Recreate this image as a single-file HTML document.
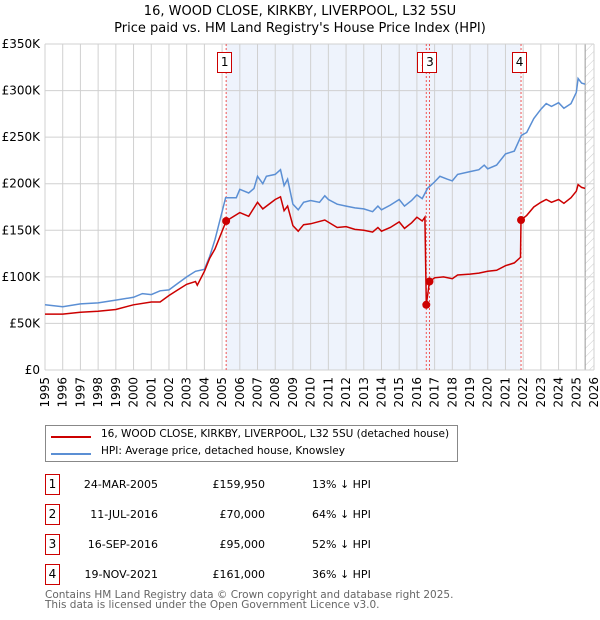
<!DOCTYPE html>
<html><head><meta charset="utf-8"><style>
body{margin:0;background:#fff;font-family:"DejaVu Sans","Liberation Sans",sans-serif;}
#wrap{position:relative;width:600px;height:620px;overflow:hidden;}
.t{position:absolute;white-space:nowrap;color:#000;}
.box{position:absolute;border:1px solid #c00;width:13px;height:19px;font-size:12px;text-align:center;line-height:19px;background:#fff;}
</style></head><body><div id="wrap">
<div class="t" style="left:0;width:600px;text-align:center;top:3px;font-size:13px;line-height:17px">16, WOOD CLOSE, KIRKBY, LIVERPOOL, L32 5SU<br>Price paid vs. HM Land Registry's House Price Index (HPI)</div>
<svg id="svg" width="600" height="420" style="position:absolute;left:0;top:0"></svg>
<div style="position:absolute;left:45px;top:425px;width:411px;height:35px;border:1px solid #888;">
<div style="position:absolute;left:5px;top:10px;width:40px;height:2px;background:#c00"></div>
<div class="t" style="left:55px;top:2px;font-size:10.5px">16, WOOD CLOSE, KIRKBY, LIVERPOOL, L32 5SU (detached house)</div>
<div style="position:absolute;left:5px;top:27px;width:40px;height:2px;background:#5b8fd4"></div>
<div class="t" style="left:55px;top:19px;font-size:10.5px">HPI: Average price, detached house, Knowsley</div>
</div>
<div id="table"></div>
<div class="t" style="left:45px;top:590px;font-size:10.5px;line-height:10px;color:#666">Contains HM Land Registry data © Crown copyright and database right 2025.<br>This data is licensed under the Open Government Licence v3.0.</div>
</div>
<script>
const hpiYears=[1995,1996,1997,1998,1999,2000,2000.5,2001,2001.5,2002,2002.5,2003,2003.5,2004,2004.3,2004.6,2005,2005.2,2005.8,2006,2006.5,2006.8,2007,2007.3,2007.5,2008,2008.3,2008.5,2008.7,2009,2009.3,2009.6,2010,2010.5,2010.8,2011,2011.5,2012,2012.5,2013,2013.5,2013.8,2014,2014.5,2015,2015.3,2015.7,2016,2016.3,2016.6,2017,2017.3,2017.7,2018,2018.3,2019,2019.5,2019.8,2020,2020.5,2021,2021.5,2021.9,2022.2,2022.6,2023,2023.3,2023.6,2024,2024.3,2024.7,2025,2025.1,2025.3,2025.5];
const hpiValues=[70,68,71,72,75,78,82,81,85,86,93,100,106,108,122,140,170,185,185,194,190,195,208,200,208,210,215,198,205,178,172,180,182,180,187,183,178,176,174,173,170,176,172,177,183,176,182,188,184,195,202,208,205,203,210,213,215,220,216,220,232,235,252,255,270,280,286,283,287,281,286,298,313,308,307];
const propYears=[1995,1996,1997,1998,1999,2000,2001,2001.5,2002,2002.5,2003,2003.5,2003.6,2004,2004.3,2004.6,2005.23,2006,2006.5,2007,2007.3,2008,2008.3,2008.5,2008.7,2009,2009.3,2009.6,2010,2010.8,2011.5,2012,2012.5,2013,2013.5,2013.8,2014,2014.5,2015,2015.3,2015.7,2016,2016.3,2016.45,2016.53,2016.71,2017,2017.5,2018,2018.3,2019,2019.5,2020,2020.5,2021,2021.5,2021.85,2021.88,2022.2,2022.6,2023,2023.3,2023.6,2024,2024.3,2024.7,2025,2025.1,2025.3,2025.5];
const propValues=[60,60,62,63,65,70,73,73,80,86,92,95,91,106,120,130,159.95,169,165,180,173,183,186,171,176,155,149,156,157,161,153,154,151,150,148,153,149,153,159,152,158,164,160,164,70,95,99,100,98,102,103,104,106,107,112,115,121,161,166,175,180,183,180,183,179,185,192,199,196,195];
const saleLabels=["1","2","3","4"];
const saleYears=[2005.23,2016.53,2016.71,2021.88];
const salePrices=[159950,70000,95000,161000];
const saleDates=["24-MAR-2005","11-JUL-2016","16-SEP-2016","19-NOV-2021"];
const salePriceText=["£159,950","£70,000","£95,000","£161,000"];
const saleHpiText=["13% ↓ HPI","64% ↓ HPI","52% ↓ HPI","36% ↓ HPI"];
const yTicks=[0,50,100,150,200,250,300,350];
const yTickLabels=["£0","£50K","£100K","£150K","£200K","£250K","£300K","£350K"];
const xTicks=[];for(let y=1995;y<=2026;y++)xTicks.push(y);

const X0=45,X1=594,Y0=370,Y1=44;
const xs=y=>X0+(y-1995)*(X1-X0)/31;
const ys=v=>Y0-v*(Y0-Y1)/350;
const svg=document.getElementById('svg');const NS='http://www.w3.org/2000/svg';
function mk(t,a){const e=document.createElementNS(NS,t);for(const k in a)e.setAttribute(k,a[k]);svg.appendChild(e);return e;}
let defs=mk('defs',{});defs.innerHTML='<pattern id="hatch" width="6" height="6" patternUnits="userSpaceOnUse" patternTransform="rotate(45)"><line x1="0" y1="0" x2="0" y2="6" stroke="#ccc" stroke-width="1"/></pattern>';
let sh=mk('rect',{x:xs(saleYears[0]),y:Y1,width:xs(saleYears[3])-xs(saleYears[0]),height:Y0-Y1,fill:'#eef3fc'});

let ht=mk('rect',{x:xs(2025.5),y:Y1,width:X1-xs(2025.5),height:Y0-Y1,fill:'url(#hatch)'});

mk('line',{x1:xs(2025.5),x2:xs(2025.5),y1:Y1,y2:Y0,stroke:'#999','stroke-width':1});
xTicks.forEach(y=>{const l=mk('line',{x1:xs(y),x2:xs(y),y1:Y1,y2:Y0,stroke:'#d0d0d0','stroke-width':1});

const t=mk('text',{x:0,y:0,transform:`translate(${xs(y)+4},377) rotate(-90)`,'text-anchor':'end','font-size':'12','font-family':'DejaVu Sans, Liberation Sans, sans-serif'});
t.textContent=y;});
yTicks.forEach((v,i)=>{const l=mk('line',{x1:X0,x2:X1,y1:ys(v),y2:ys(v),stroke:'#d0d0d0','stroke-width':1});

const t=mk('text',{x:40,y:ys(v)+4,'text-anchor':'end','font-size':'12','font-family':'DejaVu Sans, Liberation Sans, sans-serif'});
t.textContent=yTickLabels[i];});
saleYears.forEach((y,i)=>{const l=mk('line',{x1:xs(y),x2:xs(y),y1:Y1,y2:Y0,stroke:'#e55','stroke-width':1,'stroke-dasharray':'2,2'});
});
function path(xa,va,col,name){let d=xa.map((y,i)=>(i?'L':'M')+xs(y).toFixed(1)+','+ys(va[i]).toFixed(1)).join('');
const p=mk('path',{d:d,fill:'none',stroke:col,'stroke-width':1.5});}
path(hpiYears,hpiValues,'#5b8fd4','hpi-line');
path(propYears,propValues,'#c00','price-paid-line');
saleYears.forEach((y,i)=>{const c=mk('circle',{cx:xs(y),cy:ys(salePrices[i]/1000),r:4,fill:'#c00'});
});
const wrap=document.getElementById('wrap');
const offs=[-9,-9,-7,-9];
saleYears.forEach((y,i)=>{const b=document.createElement('div');b.className='box';b.textContent=saleLabels[i];
b.style.left=(xs(y)+offs[i])+'px';b.style.top='52px';
wrap.appendChild(b);});
const tb=document.getElementById('table');
saleDates.forEach((d,i)=>{const top=474+i*30;
const b=document.createElement('div');b.className='box';b.textContent=saleLabels[i];b.style.left='45px';b.style.top=top+'px';
tb.appendChild(b);
[[d,158,'right',0],[salePriceText[i],265,'right',0],[saleHpiText[i],312,'left',1]].forEach(c=>{const e=document.createElement('div');e.className='t';
e.textContent=c[0];e.style.top=(top+4)+'px';e.style.fontSize='11px';
if(c[3]){e.style.left=c[1]+'px';}else{e.style.right=(600-c[1])+'px';}
tb.appendChild(e);});});
</script></body></html>
